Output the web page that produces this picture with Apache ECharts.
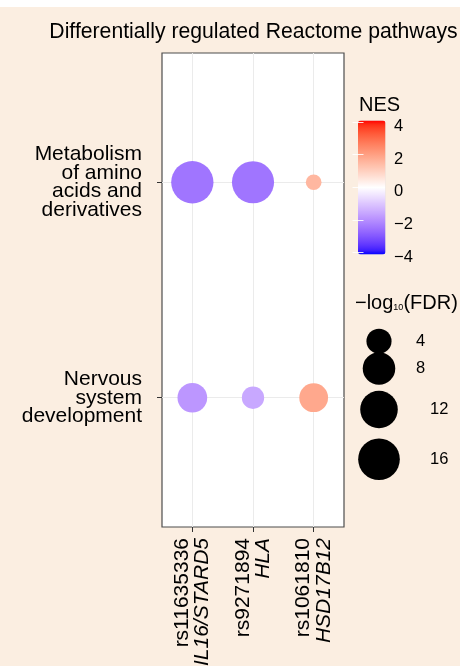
<!DOCTYPE html>
<html>
<head>
<meta charset="utf-8">
<script src="https://cdn.jsdelivr.net/npm/echarts@6/dist/echarts.min.js"></script>
<style>
  html, body { margin: 0; padding: 0; background: #ffffff; }
  #chart { width: 460px; height: 666px; background: linear-gradient(#ffffff 0 7px, #fbeee1 7px); }
</style>
</head>
<body>
<div id="chart"></div>
<script>
// ---- data -------------------------------------------------------------
// Pathways, listed top to bottom
const pathways = ['Metabolism\nof amino\nacids and\nderivatives', 'Nervous\nsystem\ndevelopment'];
// Lead SNPs and their genes (one column each)
const snps  = ['rs11635336', 'rs9271894', 'rs1061810'];
const genes = ['IL16/STARD5', 'HLA', 'HSD17B12'];
// Normalised enrichment score, one value per SNP column
const nesMetabolism = [-2.4, -2.4, 1.5];
const nesNervous    = [-1.8, -1.5, 1.8];
// -log10(FDR), one value per SNP column
const fdrMetabolism = [16.7, 16.5, 2.2];
const fdrNervous    = [6.2, 3.1, 5.7];
// Legend breaks
const nesTicks   = [-4, -2, 0, 2, 4];
const sizeBreaks = [4, 8, 12, 16];

// ---- styling / layout -----------------------------------------------
const FONT = '"Liberation Sans", Arial, Helvetica, sans-serif';
const NES_LIMITS = [nesTicks[0], nesTicks[nesTicks.length - 1]];
const SIZE_RANGE_PX = [15.7, 42.3];           // smallest / largest dot diameter
const SIZE_KEY_ROW = [21.2, 48.5, 89.5, 139.2]; // key centres inside the size-legend box

// diverging white-centred palette, interpolated in CIE Lab
const LOW = [0, 0, 255], MID = [255, 255, 255], HIGH = [255, 0, 0];
function toLin(c) { c /= 255; return c <= 0.04045 ? c / 12.92 : Math.pow((c + 0.055) / 1.055, 2.4); }
function toSrgb(c) {
  c = Math.max(0, Math.min(1, c));
  c = c <= 0.0031308 ? 12.92 * c : 1.055 * Math.pow(c, 1 / 2.4) - 0.055;
  return Math.round(Math.max(0, Math.min(1, c)) * 255);
}
const XN = 0.95047, YN = 1, ZN = 1.08883;
function fLab(t) { return t > 0.008856 ? Math.cbrt(t) : 7.787 * t + 16 / 116; }
function fInv(t) { const t3 = t * t * t; return t3 > 0.008856 ? t3 : (t - 16 / 116) / 7.787; }
function rgb2lab(rgb) {
  const [r, g, b] = rgb.map(toLin);
  const x = (0.4124 * r + 0.3576 * g + 0.1805 * b) / XN;
  const y = (0.2126 * r + 0.7152 * g + 0.0722 * b) / YN;
  const z = (0.0193 * r + 0.1192 * g + 0.9505 * b) / ZN;
  const fx = fLab(x), fy = fLab(y), fz = fLab(z);
  return [116 * fy - 16, 500 * (fx - fy), 200 * (fy - fz)];
}
function lab2hex(lab) {
  const fy = (lab[0] + 16) / 116, fx = fy + lab[1] / 500, fz = fy - lab[2] / 200;
  const x = fInv(fx) * XN, y = fInv(fy) * YN, z = fInv(fz) * ZN;
  const rgb = [
    3.2406 * x - 1.5372 * y - 0.4986 * z,
    -0.9689 * x + 1.8758 * y + 0.0415 * z,
    0.0557 * x - 0.2040 * y + 1.0570 * z
  ].map(toSrgb);
  return '#' + rgb.map(v => v.toString(16).padStart(2, '0')).join('');
}
const labLow = rgb2lab(LOW), labMid = rgb2lab(MID), labHigh = rgb2lab(HIGH);
function nesColor(v) {
  const t = v / NES_LIMITS[1];
  const end = t < 0 ? labLow : labHigh, k = Math.abs(t);
  return lab2hex(labMid.map((m, i) => m + (end[i] - m) * k));
}
const paletteStops = [];
for (let k = -16; k <= 16; k++) paletteStops.push(nesColor(k / 4));

// dot diameter: area-style (square-root) scale over the observed range
const allFdr = fdrMetabolism.concat(fdrNervous);
const fdrMin = Math.min(...allFdr), fdrMax = Math.max(...allFdr);
function dotSize(v) {
  const f = Math.max(0, (v - fdrMin) / (fdrMax - fdrMin));
  return SIZE_RANGE_PX[0] + (SIZE_RANGE_PX[1] - SIZE_RANGE_PX[0]) * Math.sqrt(f);
}

// scatter rows: [column, row, NES, -log10 FDR]; first pathway sits on top
const nesRows = [nesMetabolism, nesNervous];
const fdrRows = [fdrMetabolism, fdrNervous];
const dots = [];
pathways.forEach((p, i) => {
  snps.forEach((s, j) => {
    dots.push([j + 1, pathways.length - i, nesRows[i][j], fdrRows[i][j]]);
  });
});
const colPos = snps.map((s, j) => j + 1);
const rowPos = pathways.map((p, i) => i + 1);

const chart = echarts.init(document.getElementById('chart'), null, { renderer: 'canvas' });
chart.setOption({
  animation: false,
  backgroundColor: 'transparent',
  textStyle: { fontFamily: FONT },
  graphic: [
    { type: 'text', x: 253.5, y: 32,
      style: { text: 'Differentially regulated Reactome pathways', font: '21.2px ' + FONT,
               fill: '#000', align: 'center', verticalAlign: 'middle' } },
    { type: 'text', x: 359, y: 105,
      style: { text: 'NES', font: '20px ' + FONT, fill: '#000', align: 'left', verticalAlign: 'middle' } },
    { type: 'text', x: 355, y: 303,
      style: { text: '{a|\u2212log}{s|10}{a|(FDR)}', align: 'left', verticalAlign: 'middle',
               rich: { a: { fontSize: 20, fontFamily: FONT, fill: '#000', lineHeight: 22 },
                       s: { fontSize: 9, fontFamily: FONT, fill: '#000', padding: [10, 0, 0, 0] } } } }
  ],
  grid: [
    { left: 162, top: 53, width: 182, height: 474, show: true, backgroundColor: '#ffffff',
      borderColor: '#4d4d4d', borderWidth: 1.2, containLabel: false, outerBoundsMode: 'none' },
    { left: 358, top: 122, width: 27.5, height: 130.5, containLabel: false, outerBoundsMode: 'none' },
    { left: 358, top: 320, width: 42, height: 160, containLabel: false, outerBoundsMode: 'none' }
  ],
  xAxis: [
    { gridIndex: 0, type: 'value', min: 0.5, max: 3.5,
      axisLine: { show: false },
      axisTick: { show: true, customValues: colPos, length: 5, lineStyle: { color: '#333', width: 1 } },
      splitLine: { show: true, lineStyle: { color: '#ebebeb', width: 1 } },
      axisLabel: { customValues: colPos, rotate: 90, margin: 11,
        formatter: v => { const i = Math.round(v) - 1; return '{snp|' + snps[i] + '}\n{gene|' + genes[i] + '}'; },
        rich: { snp: { fontSize: 21, lineHeight: 20, color: '#000', fontFamily: FONT },
                gene: { fontSize: 21, lineHeight: 20, color: '#000', fontStyle: 'italic', fontFamily: FONT } } } },
    { gridIndex: 1, type: 'value', min: 0, max: 1, show: false },
    { gridIndex: 2, type: 'value', min: 0, max: 42, show: false }
  ],
  yAxis: [
    { gridIndex: 0, type: 'value', min: 0.4, max: 2.6,
      axisLine: { show: false },
      axisTick: { show: true, customValues: rowPos, length: 5, lineStyle: { color: '#333', width: 1 } },
      splitLine: { show: true, lineStyle: { color: '#ebebeb', width: 1 } },
      axisLabel: { customValues: rowPos, margin: 20, fontSize: 21, lineHeight: 18.8, color: '#000',
        fontFamily: FONT, align: 'right',
        formatter: v => pathways[pathways.length - Math.round(v)] } },
    { gridIndex: 1, type: 'value', min: NES_LIMITS[0], max: NES_LIMITS[1], interval: 2, position: 'right', z: 10,
      axisLine: { show: false }, splitLine: { show: false },
      axisTick: { show: true, inside: true, length: 5.5, lineStyle: { color: 'rgba(255,255,255,0.85)', width: 1 } },
      axisLabel: { margin: 8.5, fontSize: 16.5, color: '#000', fontFamily: FONT,
        verticalAlign: 'top', lineHeight: 9,
        formatter: v => (v < 0 ? '\u2212' + Math.abs(v) : String(v)) } },
    { gridIndex: 1, type: 'value', min: NES_LIMITS[0], max: NES_LIMITS[1], interval: 2, position: 'left', z: 10,
      axisLine: { show: false }, splitLine: { show: false }, axisLabel: { show: false },
      axisTick: { show: true, inside: true, length: 5.5, lineStyle: { color: 'rgba(255,255,255,0.85)', width: 1 } } },
    { gridIndex: 2, type: 'value', min: 0, max: 160, inverse: true, show: false }
  ],
  visualMap: {
    type: 'continuous', min: NES_LIMITS[0], max: NES_LIMITS[1], dimension: 2, seriesIndex: 0,
    inRange: { color: paletteStops },
    left: 358, top: 120.5, itemWidth: 27.5, itemHeight: 134, padding: 0,
    calculable: false, hoverLink: false, text: null, z: 4
  },
  series: [
    { type: 'scatter', xAxisIndex: 0, yAxisIndex: 0, data: dots,
      symbolSize: d => dotSize(d[3]), itemStyle: { opacity: 1 }, silent: true, z: 5 },
    { type: 'scatter', xAxisIndex: 1, yAxisIndex: 1, data: [], silent: true },
    { type: 'scatter', xAxisIndex: 2, yAxisIndex: 3, silent: true,
      data: sizeBreaks.map((b, i) => ({ value: [21, SIZE_KEY_ROW[i], b],
        label: { offset: [String(b).length > 1 ? 51 : 37, 0] } })),
      symbolSize: d => dotSize(d[2]), itemStyle: { color: '#000', opacity: 1 },
      label: { show: true, position: 'inside', align: 'left', verticalAlign: 'middle',
               fontSize: 16.5, color: '#000', fontFamily: FONT, formatter: p => String(p.value[2]) } }
  ]
});
</script>
</body>
</html>
